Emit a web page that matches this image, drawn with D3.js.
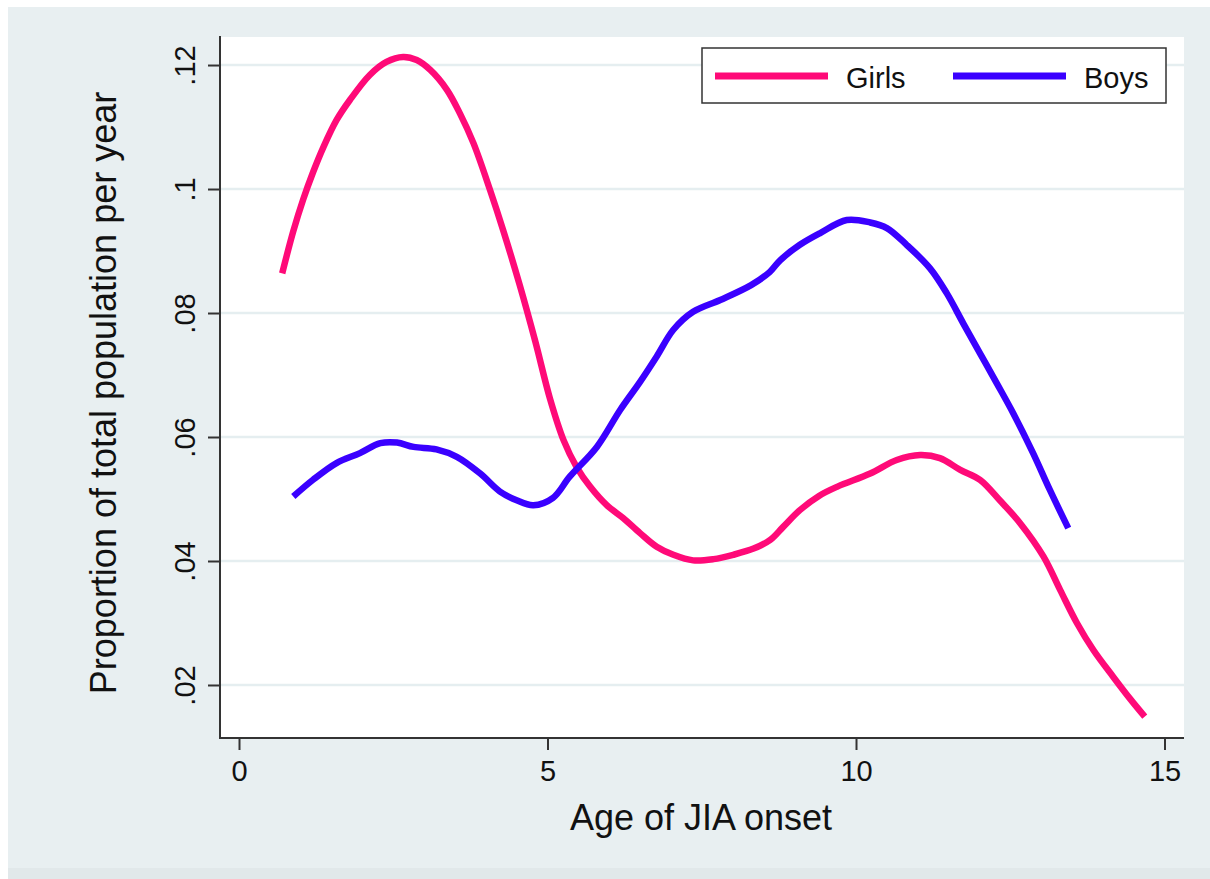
<!DOCTYPE html>
<html>
<head>
<meta charset="utf-8">
<script src="https://cdn.jsdelivr.net/npm/d3@7"></script>
<style>
  html, body { margin: 0; padding: 0; background: #fff; }
  text { font-family: "Liberation Sans", Arial, Helvetica, sans-serif; fill: #111; }
</style>
</head>
<body>
<div id="chart"></div>
<script>
// datos:
const seriesNames = ["Girls", "Boys"]
const seriesColors = ["#ff0a78", "#3a00ff"]

const girlsAge = [0.70, 0.88, 1.04, 1.20, 1.37, 1.58, 1.80, 2.12, 2.39, 2.66, 2.88, 3.10, 3.37, 3.58, 3.80, 4.07, 4.28, 4.55, 4.80,
  5.04, 5.26, 5.47, 5.69, 5.96, 6.23, 6.50, 6.77, 7.04, 7.36, 7.69, 8.01, 8.34, 8.61, 8.82, 9.09, 9.40, 9.70,
  10.23, 10.66, 11.04, 11.36, 11.69, 12.01, 12.33, 12.66, 13.04, 13.31, 13.58, 13.85, 14.17, 14.44, 14.68]
const girlsProp = [0.0864, 0.0932, 0.0983, 0.1027, 0.1068, 0.1111, 0.1144, 0.1184, 0.1205, 0.1213, 0.1208, 0.1192, 0.1160, 0.1122, 0.1074, 0.0998, 0.0934, 0.0845, 0.0755,
  0.0662, 0.0595, 0.0552, 0.0520, 0.0490, 0.0469, 0.0445, 0.0423, 0.0410, 0.0401, 0.0403, 0.0410, 0.0420, 0.0434, 0.0455, 0.0482, 0.0505, 0.0520,
  0.0541, 0.0563, 0.0571, 0.0566, 0.0547, 0.0531, 0.0498, 0.0461, 0.0407, 0.0353, 0.0300, 0.0256, 0.0213, 0.0178, 0.0149]

const boysAge = [0.88, 1.20, 1.58, 1.96, 2.29, 2.56, 2.83, 3.20, 3.53, 3.91, 4.23, 4.50, 4.77, 5.09, 5.36, 5.80, 6.18, 6.50, 6.77,
  7.04, 7.36, 7.80, 8.30, 8.60, 8.77, 9.09, 9.42, 9.85, 10.23, 10.50, 10.82, 11.20, 11.47, 11.74, 12.01, 12.28, 12.55, 12.87, 13.14, 13.44]
const boysProp = [0.0504, 0.0531, 0.0558, 0.0574, 0.0590, 0.0591, 0.0584, 0.0580, 0.0568, 0.0541, 0.0512, 0.0498, 0.0490, 0.0502, 0.0536, 0.0584, 0.0644, 0.0689, 0.0730,
  0.0773, 0.0802, 0.0821, 0.0845, 0.0866, 0.0885, 0.0910, 0.0929, 0.0950, 0.0946, 0.0937, 0.0910, 0.0872, 0.0832, 0.0783, 0.0735, 0.0687, 0.0638, 0.0574, 0.0515, 0.0453]

const xTicks = [0, 5, 10, 15]
const yTicks = [0.02, 0.04, 0.06, 0.08, 0.1, 0.12]
const yTickLabels = [".02", ".04", ".06", ".08", ".1", ".12"]

// Constantes:
const width = 1210
const height = 879
const plot = { left: 220, right: 1184, top: 37, bottom: 738 }

let svg = d3.select('div#chart').append('svg').attr('width', width).attr('height', height)

// fondos
svg.append('rect').attr('x', 8).attr('y', 7).attr('width', width - 8).attr('height', height - 7).attr('fill', '#e8eff1')
svg.append('rect').attr('x', 8).attr('y', 868).attr('width', width - 8).attr('height', 11).attr('fill', '#e1e8ea')
svg.append('rect').attr('x', plot.left).attr('y', plot.top)
    .attr('width', plot.right - plot.left).attr('height', plot.bottom - plot.top).attr('fill', '#fff')

// escalas:
let x = d3.scaleLinear().domain([-0.308, 15.316]).range([plot.left, plot.right])
let y = d3.scaleLinear().domain([0.01145, 0.12452]).range([plot.bottom, plot.top])

// grid
svg.append('g').selectAll('line').data(yTicks).enter().append('line')
    .attr('x1', plot.left).attr('x2', plot.right)
    .attr('y1', d => y(d)).attr('y2', d => y(d))
    .attr('stroke', '#e5eef0').attr('stroke-width', 2.5)

// ejes:
let xAxis = d3.axisBottom(x).tickValues(xTicks).tickSize(12).tickFormat(d3.format('d'))
let yAxis = d3.axisLeft(y).tickValues(yTicks).tickSize(12).tickFormat((d, i) => yTickLabels[i])

let xAxisGroup = svg.append('g').attr('transform', `translate(0, ${plot.bottom})`).call(xAxis)
let yAxisGroup = svg.append('g').attr('transform', `translate(${plot.left}, 0)`).call(yAxis)

;[xAxisGroup, yAxisGroup].forEach(g => {
    g.select('.domain').remove()
    g.selectAll('.tick line').attr('stroke', '#333').attr('stroke-width', 2)
    g.selectAll('.tick text').style('font-size', '29px').attr('fill', '#111')
})
xAxisGroup.selectAll('.tick text').attr('dy', null).attr('y', 43)
yAxisGroup.selectAll('.tick text')
    .attr('x', null).attr('dy', null)
    .attr('text-anchor', 'middle')
    .attr('transform', 'translate(-25, 0) rotate(-90)')

// líneas de los ejes
svg.append('line').attr('x1', plot.left).attr('x2', plot.left).attr('y1', plot.top - 1).attr('y2', plot.bottom + 1)
    .attr('stroke', '#333').attr('stroke-width', 2)
svg.append('line').attr('x1', plot.left - 1).attr('x2', plot.right).attr('y1', plot.bottom).attr('y2', plot.bottom)
    .attr('stroke', '#333').attr('stroke-width', 2)

// títulos
svg.append('text').attr('x', 701).attr('y', 830).attr('text-anchor', 'middle')
    .style('font-size', '36px').text('Age of JIA onset')
svg.append('text').attr('transform', 'translate(116, 393) rotate(-90)').attr('text-anchor', 'middle')
    .style('font-size', '36px').text('Proportion of total population per year')

// curvas
let series = [
    girlsAge.map((a, i) => ({ age: a, prop: girlsProp[i] })),
    boysAge.map((a, i) => ({ age: a, prop: boysProp[i] }))
]
let line = d3.line().x(d => x(d.age)).y(d => y(d.prop)).curve(d3.curveCatmullRom.alpha(0.5))

svg.append('g').selectAll('path').data(series).enter().append('path')
    .attr('d', line)
    .attr('fill', 'none')
    .attr('stroke', (d, i) => seriesColors[i])
    .attr('stroke-width', 6.5)

// leyenda
let legend = svg.append('g').attr('transform', 'translate(702, 48)')
legend.append('rect').attr('width', 464).attr('height', 55).attr('fill', '#fff')
    .attr('stroke', '#333').attr('stroke-width', 1.5)
let items = legend.selectAll('g.item').data(seriesNames).enter().append('g')
    .attr('transform', (d, i) => `translate(${13 + i * 238}, 0)`)
items.append('line').attr('x1', 0).attr('x2', 113).attr('y1', 28).attr('y2', 28)
    .attr('stroke', (d, i) => seriesColors[i]).attr('stroke-width', 7)
items.append('text').attr('x', 131).attr('y', 40).style('font-size', '29px').text(d => d)
</script>
</body>
</html>
